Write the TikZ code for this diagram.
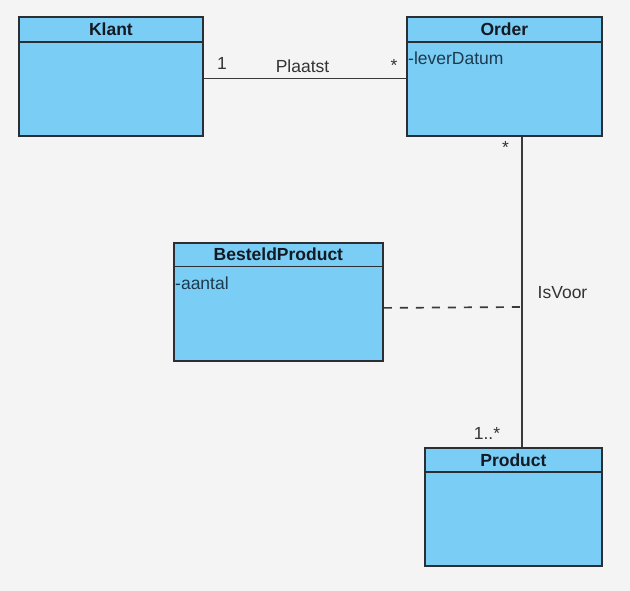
\documentclass[tikz,border=0pt]{standalone}
\usepackage{fontspec}
\setmainfont{Liberation Sans}
\usetikzlibrary{calc}
\definecolor{bgc}{HTML}{F4F4F4}
\definecolor{boxfill}{HTML}{7ACDF4}
\definecolor{boxline}{HTML}{2B2F33}
\definecolor{titletext}{HTML}{141A24}
\definecolor{attrtext}{HTML}{1E3A4E}
\definecolor{labeltext}{HTML}{333333}
\definecolor{linec}{HTML}{3A3A3A}
\tikzset{
  classbox/.style={draw=boxline, line width=1.8pt, fill=boxfill, rectangle, inner sep=0pt, anchor=north west},
  divider/.style={draw=boxline, line width=1.8pt},
  classtitle/.style={font=\fontsize{17.5}{20}\selectfont\bfseries, text=titletext, inner sep=0pt},
  attr/.style={font=\fontsize{17.5}{20}\selectfont, text=attrtext, inner sep=0pt, anchor=west},
  assoc/.style={draw=linec, line width=1.7pt},
  assocdash/.style={draw=linec, line width=1.7pt, dash pattern=on 8pt off 8pt},
  lbl/.style={font=\fontsize{17.5}{20}\selectfont, text=labeltext, inner sep=0pt},
}
\begin{document}
\begin{tikzpicture}[x=1pt,y=-1pt]
\useasboundingbox (0,0) rectangle (630,591);
\fill[bgc] (0,0) rectangle (630,591);

% Klant
\node[classbox, minimum width=184pt, minimum height=119pt] (klant) at (18,16) {};
\draw[divider] ($(klant.north west)+(0,26)$) -- ($(klant.north east)+(0,26)$);
\node[classtitle] (klanttitle) at ($(klant.north)+(0,13.5)$) {Klant};

% Order
\node[classbox, minimum width=195pt, minimum height=119pt] (order) at (406,16) {};
\draw[divider] ($(order.north west)+(0,26)$) -- ($(order.north east)+(0,26)$);
\node[classtitle] (ordertitle) at ($(order.north)+(0,13.5)$) {Order};
\node[attr] (orderattr) at ($(order.north west)+(2,42)$) {-leverDatum};

% BesteldProduct
\node[classbox, minimum width=209pt, minimum height=118pt] (besteld) at (173,242) {};
\draw[divider] ($(besteld.north west)+(0,24.5)$) -- ($(besteld.north east)+(0,24.5)$);
\node[classtitle] (besteldtitle) at ($(besteld.north)+(0,12.5)$) {BesteldProduct};
\node[attr] (besteldattr) at ($(besteld.north west)+(2,41)$) {-aantal};

% Product
\node[classbox, minimum width=177pt, minimum height=118pt] (product) at (424,447) {};
\draw[divider] ($(product.north west)+(0,25)$) -- ($(product.north east)+(0,25)$);
\node[classtitle] (producttitle) at ($(product.north)+(0,13)$) {Product};

% Plaatst association
\draw[assoc] ([yshift=-2.2pt]klant.east) -- ([yshift=-2.2pt]order.west);
% IsVoor association
\coordinate (ordbot) at ([xshift=17.5pt]order.south);
\coordinate (assocpt) at (ordbot |- 0,307);
\draw[assoc] (ordbot) -- (ordbot |- product.north);
\draw[assocdash] ([yshift=-6pt]besteld.east) -- (assocpt);

\node[lbl] (m1) at (222,63) {1};
\node[lbl] (plaatst) at (302.5,66) {Plaatst};
\node[lbl] (m2) at (394,65) {*};
\node[lbl] (m3) at (505.5,147) {*};
\node[lbl] (isvoor) at (562.5,293) {IsVoor};
\node[lbl] (m4) at (487,433) {1..*};
\end{tikzpicture}
\end{document}
